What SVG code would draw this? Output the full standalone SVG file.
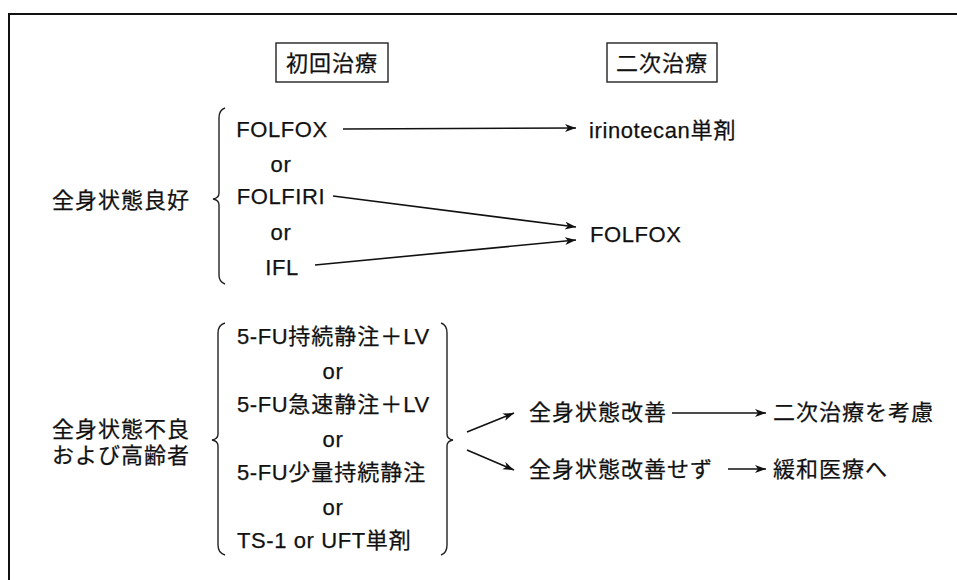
<svg xmlns="http://www.w3.org/2000/svg" width="957" height="580" viewBox="0 0 957 580">
<style>
  text { font-family: "Liberation Sans", "Noto Sans CJK JP", sans-serif; fill: #111; stroke: #111; stroke-width: 0.25; }
  .jp { font-size: 22px; letter-spacing: 1px; }
  .lt { font-size: 22px; letter-spacing: 0.6px; }
  .mid { text-anchor: middle; }
  .box { fill: #fff; stroke: #222; stroke-width: 1.4; }
  .brace { fill: none; stroke: #222; stroke-width: 1.4; }
  .conn { fill: none; stroke: #111; stroke-width: 1.6; }
  .frame { fill: none; stroke: #111; stroke-width: 2; }
</style>
<defs>
  <marker id="ah" markerUnits="userSpaceOnUse" markerWidth="12" markerHeight="10" refX="11" refY="4" orient="auto">
    <path d="M0,0 L11,4 L0,8 L3,4 z" fill="#111"/>
  </marker>
</defs>
<rect width="957" height="580" fill="#fff"/>
<path class="frame" d="M9,580 V14 H957"/>

<g id="header-first">
  <rect class="box" x="276" y="43" width="112" height="39"/>
  <text class="jp mid" x="332" y="71">初回治療</text>
</g>
<g id="header-second">
  <rect class="box" x="607" y="43" width="110" height="39"/>
  <text class="jp mid" x="662" y="71">二次治療</text>
</g>

<g id="good-status">
  <text class="jp" x="52" y="208">全身状態良好</text>
  <path class="brace" d="M225,108 Q219,110 219,118 V193 Q219,198 213,199 Q219,200 219,205 V275 Q219,282 225,284"/>
</g>
<g id="good-regimens">
  <text class="lt mid" x="282" y="137">FOLFOX</text>
  <text class="lt mid" x="281" y="172">or</text>
  <text class="lt mid" x="281" y="204">FOLFIRI</text>
  <text class="lt mid" x="281" y="240">or</text>
  <text class="lt mid" x="282" y="275">IFL</text>
</g>
<g id="irinotecan">
  <text class="lt" x="589" y="138">irinotecan<tspan class="jp">単剤</tspan></text>
</g>
<g id="folfox-second">
  <text class="lt" x="590" y="242">FOLFOX</text>
</g>

<g id="poor-status">
  <text class="jp" x="52" y="437">全身状態不良</text>
  <text class="jp" x="52" y="463">および高齢者</text>
  <path class="brace" d="M225,323 Q218,325 218,333 V434 Q218,439 212,440 Q218,441 218,446 V545 Q218,553 225,555"/>
</g>
<g id="poor-regimens">
  <text class="lt" x="237" y="344">5-FU<tspan class="jp">持続静注＋</tspan>LV</text>
  <text class="lt mid" x="333" y="379">or</text>
  <text class="lt" x="237" y="412">5-FU<tspan class="jp">急速静注＋</tspan>LV</text>
  <text class="lt mid" x="333" y="447">or</text>
  <text class="lt" x="237" y="480">5-FU<tspan class="jp">少量持続静注</tspan></text>
  <text class="lt mid" x="333" y="515">or</text>
  <text class="lt" x="237" y="548">TS-1 or UFT<tspan class="jp">単剤</tspan></text>
  <path class="brace" d="M441,323 Q447,325 447,333 V434 Q447,439 453,440 Q447,441 447,446 V545 Q447,553 441,555"/>
</g>

<g id="improved">
  <text class="jp" x="529" y="420">全身状態改善</text>
</g>
<g id="consider-second">
  <text class="jp" x="773" y="420">二次治療を考慮</text>
</g>
<g id="not-improved">
  <text class="jp" x="529" y="477">全身状態改善せず</text>
</g>
<g id="palliative">
  <text class="jp" x="773" y="477">緩和医療へ</text>
</g>

<g id="connectors">
  <line class="conn" x1="343" y1="129" x2="576" y2="128" marker-end="url(#ah)"/>
  <line class="conn" x1="333" y1="196" x2="576" y2="227" marker-end="url(#ah)"/>
  <line class="conn" x1="315" y1="265" x2="576" y2="240" marker-end="url(#ah)"/>
  <line class="conn" x1="467" y1="432" x2="514" y2="413" marker-end="url(#ah)"/>
  <line class="conn" x1="467" y1="450" x2="514" y2="470" marker-end="url(#ah)"/>
  <line class="conn" x1="672" y1="413" x2="766" y2="413" marker-end="url(#ah)"/>
  <line class="conn" x1="728" y1="469" x2="766" y2="469" marker-end="url(#ah)"/>
</g>
</svg>
